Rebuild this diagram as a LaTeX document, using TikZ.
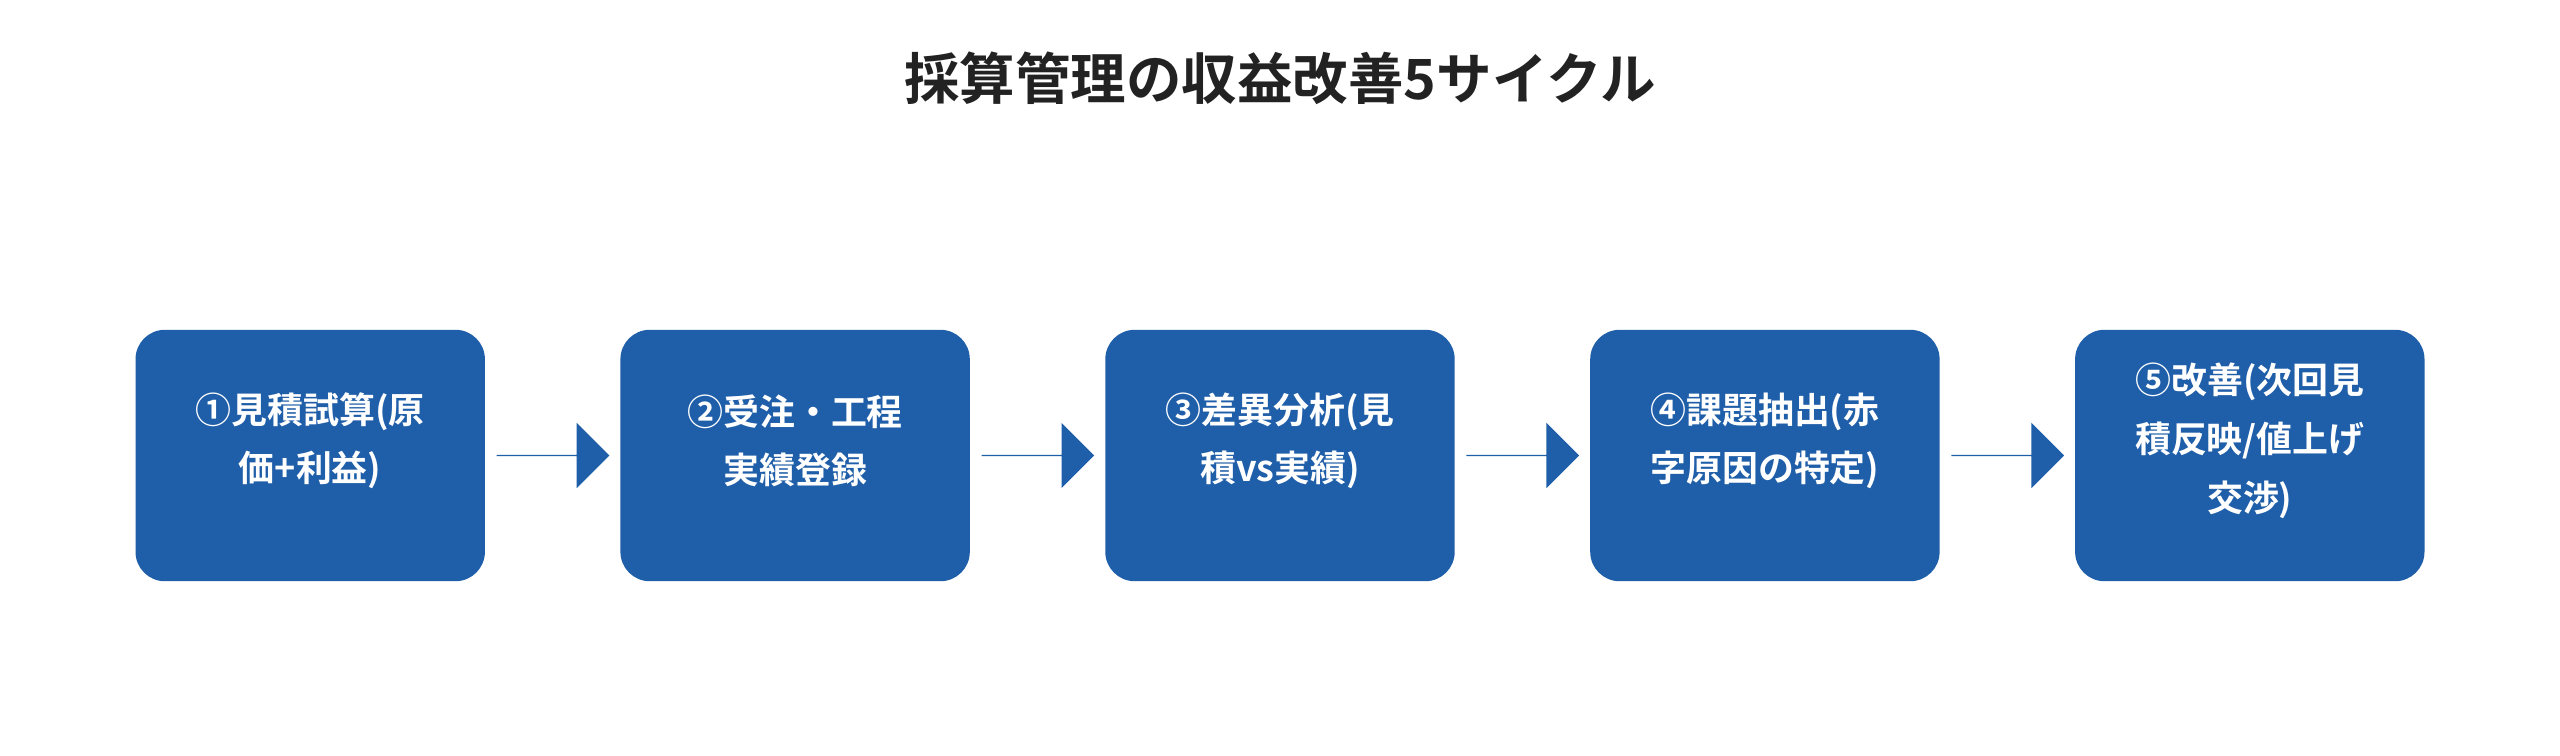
\documentclass[tikz,border=0pt]{standalone}
\usepackage{fontspec}
\setmainfont{Noto Sans CJK JP}[BoldFont={* Bold}]
\usetikzlibrary{shapes.arrows}
\definecolor{boxblue}{HTML}{1F5EA8}
\definecolor{titlec}{HTML}{222222}
\begin{document}
\begin{tikzpicture}[x=1pt,y=-1pt,
  box/.style={fill=boxblue,rounded corners=18pt,draw=none},
  lab/.style={text=white,font=\fontsize{22}{36}\selectfont\bfseries,align=center},
  arr/.style={single arrow,fill=boxblue,draw=none,minimum height=69pt,minimum width=40pt,single arrow head extend=10pt,inner sep=0pt,single arrow tip angle=90}]
\useasboundingbox (0,0) rectangle (1568,463);
\node[font=\fontsize{34}{40}\selectfont\bfseries,text=titlec] (title) at (784,48) {採算管理の収益改善5サイクル};
\foreach \i/\x/\t in {1/83/{①見積試算(原\\価+利益)},2/380/{②受注・工程\\実績登録},3/677/{③差異分析(見\\積vs実績)},4/974/{④課題抽出(赤\\字原因の特定)},5/1271/{⑤改善(次回見\\積反映/値上げ\\交渉)}}{
  \fill[box] (\x,202) rectangle ++(214,154);
  \node[lab] (b\i) at (\x+107,270) {\t};
}
\foreach \x [count=\k] in {304,601,898,1195}{
  \node[arr] (a\k) at (\x+34.5,279) {};
}
\end{tikzpicture}
\end{document}
